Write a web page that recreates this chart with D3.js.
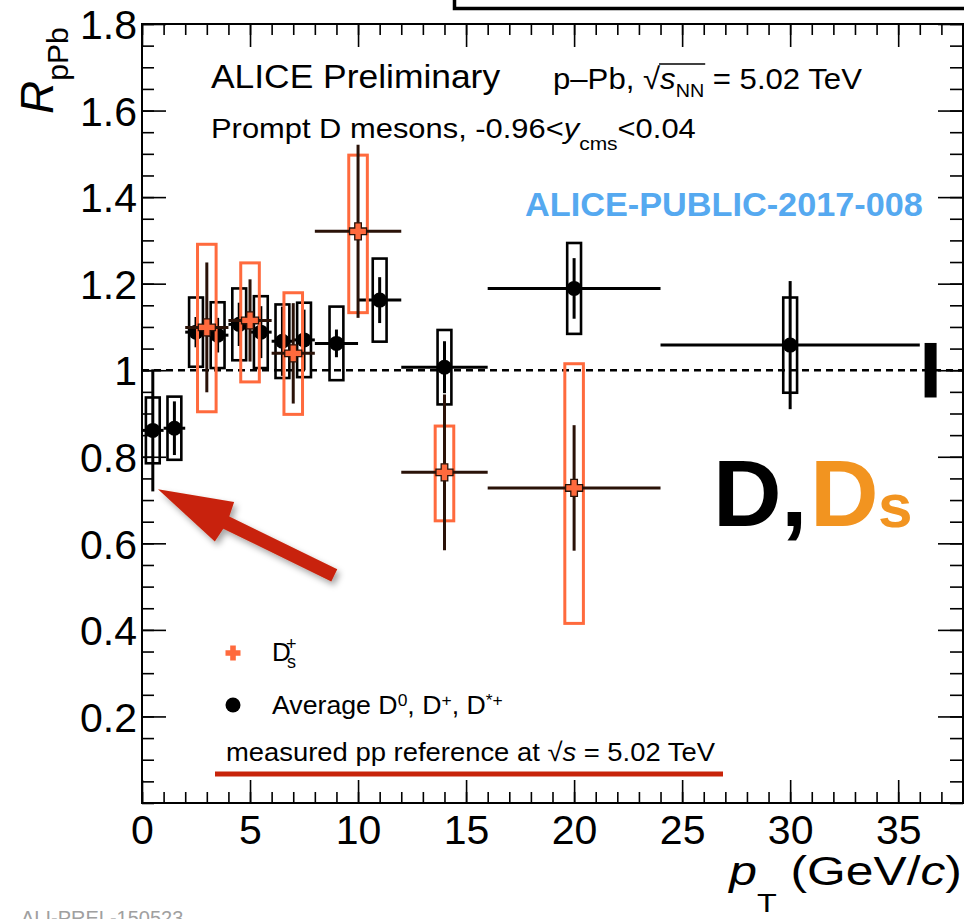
<!DOCTYPE html>
<html><head><meta charset="utf-8">
<script src="https://cdn.jsdelivr.net/npm/d3@7"></script>
<style>
html,body{margin:0;padding:0;background:#fff;overflow:hidden}
svg{display:block}
text{font-family:"Liberation Sans",Arial,Helvetica,sans-serif}
</style></head><body>
<svg id="c" width="964" height="919"></svg>
<script>
// ---------- data ----------
// Average D0, D+, D*+
const dPt   = [0.5, 1.5, 2.5, 3.5, 4.5, 5.5, 6.5, 7.5, 9, 11, 14, 20, 30];
const dPtLo = [0, 1, 2, 3, 4, 5, 6, 7, 8, 10, 12, 16, 24];
const dPtHi = [1, 2, 3, 4, 5, 6, 7, 8, 10, 12, 16, 24, 36];
const dR    = [0.861, 0.866, 1.088, 1.081, 1.106, 1.088, 1.067, 1.070, 1.062, 1.162, 1.007, 1.189, 1.058];
const dStat = [0.141, 0.062, 0.035, 0.040, 0.050, 0.060, 0.080, 0.070, 0.032, 0.053, 0.060, 0.070, 0.148];
const dSyst = [0.076, 0.073, 0.080, 0.076, 0.083, 0.083, 0.085, 0.086, 0.085, 0.096, 0.086, 0.105, 0.110];
// Ds+
const dsPt     = [3, 5, 7, 10, 14, 20];
const dsPtLo   = [2, 4, 6, 8, 12, 16];
const dsPtHi   = [4, 6, 8, 12, 16, 24];
const dsR      = [1.099, 1.115, 1.039, 1.321, 0.764, 0.728];
const dsStat   = [0.150, 0.095, 0.116, 0.200, 0.180, 0.145];
const dsSystUp = [0.192, 0.133, 0.140, 0.176, 0.107, 0.287];
const dsSystDn = [0.195, 0.142, 0.141, 0.188, 0.112, 0.313];
// normalisation uncertainty
const normPt = [36.5];
const normUnc = [0.063];
// ticks
const xTickLabels = [0, 5, 10, 15, 20, 25, 30, 35];
const yTickLabels = [0.2, 0.4, 0.6, 0.8, 1.0, 1.2, 1.4, 1.6, 1.8];
// annotation arrow (data coords): tip and tail
const arrowTip = [0.74, 0.725];
const arrowTail = [8.9, 0.526];

// ---------- setup ----------
const svg = d3.select('#c');
const x = d3.scaleLinear().domain([0, 38]).range([142, 963]);
const y = d3.scaleLinear().domain([0, 1.8]).range([803, 24]);
const ORANGE = '#ff6a3d', DSLINE = '#2a1208', RED = '#c8240a';

const defs = svg.append('defs');
const f = defs.append('filter').attr('id', 'sh').attr('x', '-20%').attr('y', '-20%').attr('width', '150%').attr('height', '150%');
f.append('feDropShadow').attr('dx', 3).attr('dy', 4).attr('stdDeviation', 3).attr('flood-color', '#000').attr('flood-opacity', 0.35);

// cut-off box at top
svg.append('path').attr('d', 'M454.5,0 V8.5 H970').attr('fill', 'none').attr('stroke', '#000').attr('stroke-width', 3.5);

// ---------- axes ----------
function styleAxis(g) {
  g.select('.domain').remove();
  g.selectAll('.tick line').attr('stroke', '#000').attr('stroke-width', 1.6);
  g.selectAll('text').attr('font-family', '"Liberation Sans",Arial,sans-serif').attr('font-size', 41).attr('fill', '#000');
}
const xMinor = d3.range(0, 39, 1), yMinor = d3.range(0, 1.8001, 0.05);
svg.append('g').attr('transform', `translate(0,${y(0)})`).call(d3.axisBottom(x).tickValues(xMinor).tickSize(-11).tickFormat('')).call(styleAxis);
svg.append('g').attr('transform', `translate(0,${y(0)})`).call(d3.axisBottom(x).tickValues(xTickLabels).tickSize(-23).tickPadding(12).tickFormat(d3.format('d'))).call(styleAxis)
  .selectAll('text').attr('dy', '0.71em');
svg.append('g').attr('transform', `translate(0,${y(1.8)})`).call(d3.axisTop(x).tickValues(xMinor).tickSize(-11).tickFormat('')).call(styleAxis);
svg.append('g').attr('transform', `translate(0,${y(1.8)})`).call(d3.axisTop(x).tickValues(xTickLabels).tickSize(-23).tickFormat('')).call(styleAxis);
svg.append('g').attr('transform', `translate(${x(0)},0)`).call(d3.axisLeft(y).tickValues(yMinor).tickSize(-12).tickFormat('')).call(styleAxis);
svg.append('g').attr('transform', `translate(${x(0)},0)`).call(d3.axisLeft(y).tickValues(yTickLabels).tickSize(-24).tickPadding(5).tickFormat(d => d3.format('')(+d.toFixed(1)))).call(styleAxis)
  .selectAll('text').attr('dy', '0.36em');
svg.append('g').attr('transform', `translate(${x(38)},0)`).call(d3.axisRight(y).tickValues(yMinor).tickSize(-13).tickFormat('')).call(styleAxis);
svg.append('g').attr('transform', `translate(${x(38)},0)`).call(d3.axisRight(y).tickValues(yTickLabels).tickSize(-25).tickFormat('')).call(styleAxis);

svg.append('rect').attr('x', x(0)).attr('y', y(1.8)).attr('width', x(38) - x(0)).attr('height', y(0) - y(1.8))
  .attr('fill', 'none').attr('stroke', '#000').attr('stroke-width', 2);

// dashed unity line
svg.append('line').attr('x1', x(0)).attr('x2', x(38)).attr('y1', y(1)).attr('y2', y(1))
  .attr('stroke', '#000').attr('stroke-width', 2.6).attr('stroke-dasharray', '7,5');

// ---------- D average ----------
const dData = dPt.map((p, i) => ({p, lo: dPtLo[i], hi: dPtHi[i], r: dR[i], st: dStat[i], sy: dSyst[i]}));
const dsData = dsPt.map((p, i) => ({p, lo: dsPtLo[i], hi: dsPtHi[i], r: dsR[i], st: dsStat[i], su: dsSystUp[i], sd: dsSystDn[i]}));
const dBoxHalf = 0.32, dsBoxHalf = 0.43;

const gD = svg.append('g');
gD.selectAll('rect.sy').data(dData).join('rect')
  .attr('x', d => x(d.p - dBoxHalf)).attr('width', d => x(d.p + dBoxHalf) - x(d.p - dBoxHalf))
  .attr('y', d => y(d.r + d.sy)).attr('height', d => y(d.r - d.sy) - y(d.r + d.sy))
  .attr('fill', 'none').attr('stroke', '#000').attr('stroke-width', 2.6);
gD.selectAll('line.h').data(dData).join('line')
  .attr('x1', d => x(d.lo)).attr('x2', d => x(d.hi)).attr('y1', d => y(d.r)).attr('y2', d => y(d.r))
  .attr('stroke', '#000').attr('stroke-width', 3);
gD.selectAll('line.v').data(dData).join('line')
  .attr('x1', d => x(d.p)).attr('x2', d => x(d.p)).attr('y1', d => y(d.r + d.st)).attr('y2', d => y(d.r - d.st))
  .attr('stroke', '#000').attr('stroke-width', 3);
gD.selectAll('circle').data(dData).join('circle')
  .attr('cx', d => x(d.p)).attr('cy', d => y(d.r)).attr('r', 7.5).attr('fill', '#000');

// ---------- Ds ----------
const cross = (a, t) => `M${-t},${-a}H${t}V${-t}H${a}V${t}H${t}V${a}H${-t}V${t}H${-a}V${-t}H${-t}Z`;
const gS = svg.append('g');
gS.selectAll('rect').data(dsData).join('rect')
  .attr('x', d => x(d.p - dsBoxHalf)).attr('width', d => x(d.p + dsBoxHalf) - x(d.p - dsBoxHalf))
  .attr('y', d => y(d.r + d.su)).attr('height', d => y(d.r - d.sd) - y(d.r + d.su))
  .attr('fill', 'none').attr('stroke', ORANGE).attr('stroke-width', 3);
gS.selectAll('line.h').data(dsData).join('line')
  .attr('x1', d => x(d.lo)).attr('x2', d => x(d.hi)).attr('y1', d => y(d.r)).attr('y2', d => y(d.r))
  .attr('stroke', DSLINE).attr('stroke-width', 3);
gS.selectAll('line.v').data(dsData).join('line')
  .attr('x1', d => x(d.p)).attr('x2', d => x(d.p)).attr('y1', d => y(d.r + d.st)).attr('y2', d => y(d.r - d.st))
  .attr('stroke', DSLINE).attr('stroke-width', 3);
gS.selectAll('path').data(dsData).join('path')
  .attr('transform', d => `translate(${x(d.p)},${y(d.r)})`).attr('d', cross(8.5, 3.3))
  .attr('fill', ORANGE).attr('stroke', '#2a1208').attr('stroke-width', 1.3);

// normalisation box
svg.selectAll('rect.norm').data(normPt).join('rect').attr('class', 'norm')
  .attr('x', d => x(d) - 6).attr('width', 12)
  .attr('y', (d, i) => y(1 + normUnc[i])).attr('height', (d, i) => y(1 - normUnc[i]) - y(1 + normUnc[i]))
  .attr('fill', '#000');

// ---------- arrow ----------
(function () {
  const tx = x(arrowTip[0]), ty = y(arrowTip[1]), ex = x(arrowTail[0]), ey = y(arrowTail[1]);
  const L = Math.hypot(ex - tx, ey - ty), ux = (ex - tx) / L, uy = (ey - ty) / L, nx = -uy, ny = ux;
  const P = (a, n) => [tx + ux * a + nx * n, ty + uy * a + ny * n];
  const pts = [P(0, 0), P(74, -22), P(76, -6.8), P(L, -6.8), P(L, 6.8), P(76, 6.8), P(74, 22)];
  svg.append('path').attr('d', 'M' + pts.map(p => p.join(',')).join('L') + 'Z')
    .attr('fill', RED).attr('filter', 'url(#sh)');
})();

// ---------- texts ----------
function fit(g, x0, w) {
  const b = g.node().getBBox();
  g.attr('transform', `translate(${x0},0) scale(${w / b.width},1) translate(${-b.x},0)`);
}
// ALICE Preliminary
let g = svg.append('g');
g.append('text').attr('y', 88).attr('font-size', 32.5).text('ALICE Preliminary');
fit(g, 211, 290);
// p–Pb line
g = svg.append('g');
let t = g.append('text').attr('y', 89).attr('font-size', 30);
t.append('tspan').text('p\u2013Pb, ');
t.append('tspan').text('\u221A');
t.append('tspan').attr('font-style', 'italic').text('s');
t.append('tspan').attr('font-size', 19).attr('dy', 8).text('NN');
t.append('tspan').attr('dy', -8).text(' = 5.02 TeV');
{
  const n = t.node(), e1 = n.getExtentOfChar(6), e2 = n.getExtentOfChar(9);
  g.append('line').attr('x1', e1.x + e1.width - 1).attr('x2', e2.x + e2.width + 1)
    .attr('y1', 64).attr('y2', 64).attr('stroke', '#000').attr('stroke-width', 1.6);
}
fit(g, 553, 309);
// Prompt D mesons
g = svg.append('g');
t = g.append('text').attr('y', 138).attr('font-size', 28);
t.append('tspan').text('Prompt D mesons, -0.96<');
t.append('tspan').attr('font-style', 'italic').text('y');
t.append('tspan').attr('font-size', 19).attr('dy', 12).text('cms');
t.append('tspan').attr('dy', -12).text('<0.04');
fit(g, 211, 485);
// ALICE-PUBLIC
g = svg.append('g');
g.append('text').attr('y', 216.5).attr('font-size', 33.5).attr('font-weight', 'bold').attr('fill', '#55a9f0').text('ALICE-PUBLIC-2017-008');
fit(g, 525, 398);
// D, Ds
t = svg.append('text').attr('y', 526).attr('font-weight', 'bold').attr('font-size', 95);
t.append('tspan').attr('x', 713).attr('fill', '#000').text('D');
t.append('tspan').attr('x', 781).attr('fill', '#000').text(',');
t.append('tspan').attr('x', 810).attr('fill', '#f29420').text('D');
t.append('tspan').attr('x', 878).attr('dy', 1).attr('font-size', 62).attr('fill', '#f29420').text('s');

// ---------- legend ----------
svg.append('path').attr('transform', 'translate(233,653)').attr('d', cross(7.5, 2.8)).attr('fill', ORANGE);
t = svg.append('text').attr('x', 272).attr('y', 661).attr('font-size', 26);
t.append('tspan').text('D');
t.append('tspan').attr('x', 286).attr('dy', -11).attr('font-size', 18).text('+');
t.append('tspan').attr('x', 287).attr('dy', 18).attr('font-size', 18).text('s');
svg.append('circle').attr('cx', 233).attr('cy', 705).attr('r', 7.5).attr('fill', '#000');
g = svg.append('g');
t = g.append('text').attr('y', 714).attr('font-size', 26);
t.append('tspan').text('Average D');
t.append('tspan').attr('font-size', 17).attr('dy', -8).text('0');
t.append('tspan').attr('dy', 8).text(', D');
t.append('tspan').attr('font-size', 17).attr('dy', -8).text('+');
t.append('tspan').attr('dy', 8).text(', D');
t.append('tspan').attr('font-size', 17).attr('dy', -8).text('*+');
fit(g, 272, 231);
g = svg.append('g');
t = g.append('text').attr('y', 761.5).attr('font-size', 26);
t.append('tspan').text('measured pp reference at \u221A');
t.append('tspan').attr('font-style', 'italic').text('s');
t.append('tspan').text(' = 5.02 TeV');
fit(g, 226, 490);
svg.append('line').attr('x1', 215).attr('x2', 723).attr('y1', 774).attr('y2', 774).attr('stroke', RED).attr('stroke-width', 5);

// ---------- axis titles ----------
t = svg.append('text').attr('transform', 'translate(53,114) rotate(-90)').attr('font-size', 46);
t.append('tspan').attr('font-style', 'italic').text('R');
t.append('tspan').attr('font-size', 30).attr('dy', 15).text('pPb');

g = svg.append('g');
t = g.append('text').attr('y', 885).attr('font-size', 40);
t.append('tspan').attr('font-style', 'italic').text('p');
t.append('tspan').attr('font-size', 26).attr('dy', 27).text('T');
t.append('tspan').attr('dy', -27).text(' (GeV/');
t.append('tspan').attr('font-style', 'italic').text('c');
t.append('tspan').text(')');
fit(g, 728, 234);

// watermark (cut off at the bottom edge, as in the reference)
svg.append('text').attr('x', 21).attr('y', 925).attr('font-family', '"Liberation Mono",monospace').attr('font-size', 20)
  .attr('fill', '#a0a0a0').text('ALI-PREL-150523');
</script>
</body></html>
